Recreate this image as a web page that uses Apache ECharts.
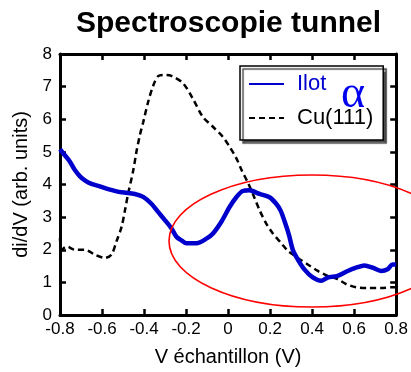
<!DOCTYPE html>
<html>
<head>
<meta charset="utf-8">
<script src="https://cdn.jsdelivr.net/npm/echarts@6/dist/echarts.min.js"></script>
<style>html,body{margin:0;padding:0;background:#fff}#c{width:411px;height:372px}</style>
</head>
<body>
<div id="c"></div>
<script>
const titleText = 'Spectroscopie tunnel';
const xName = 'V échantillon (V)';
const yName = 'di/dV (arb. units)';
const seriesNames = ['Ilot', 'Cu(111)'];
const xTicks = [-0.8, -0.6, -0.4, -0.2, 0, 0.2, 0.4, 0.6, 0.8];
const yTicks = [0, 1, 2, 3, 4, 5, 6, 7, 8];

const ilotV = [-0.8, -0.78, -0.755, -0.73, -0.705, -0.68, -0.65, -0.618, -0.571, -0.507, -0.444, -0.404, -0.365, -0.333, -0.301, -0.27, -0.246, -0.22, -0.198, -0.151, -0.103, -0.072, -0.032, 0.007, 0.039, 0.07, 0.1, 0.15, 0.197, 0.229, 0.25, 0.27, 0.29, 0.308, 0.332, 0.363, 0.403, 0.443, 0.474, 0.521, 0.569, 0.609, 0.649, 0.688, 0.728, 0.759, 0.783, 0.8];
const ilotY = [5.08, 4.92, 4.72, 4.45, 4.25, 4.12, 4.02, 3.96, 3.86, 3.76, 3.71, 3.62, 3.41, 3.16, 2.91, 2.66, 2.4, 2.28, 2.2, 2.2, 2.34, 2.5, 2.86, 3.31, 3.61, 3.8, 3.82, 3.71, 3.61, 3.41, 3.2, 2.85, 2.45, 2.0, 1.7, 1.4, 1.15, 1.05, 1.15, 1.2, 1.35, 1.45, 1.52, 1.45, 1.35, 1.4, 1.55, 1.55];

const cuV = [-0.8, -0.792, -0.768, -0.729, -0.681, -0.634, -0.586, -0.555, -0.531, -0.507, -0.491, -0.476, -0.452, -0.436, -0.42, -0.404, -0.381, -0.357, -0.333, -0.3, -0.27, -0.214, -0.167, -0.12, -0.072, -0.025, 0.007, 0.039, 0.063, 0.094, 0.118, 0.15, 0.181, 0.213, 0.253, 0.284, 0.332, 0.379, 0.427, 0.474, 0.521, 0.561, 0.609, 0.664, 0.728, 0.783, 0.8];
const cuY = [2.36, 2.0, 2.1, 2.0, 2.0, 1.85, 1.75, 1.85, 2.26, 2.7, 3.2, 3.71, 4.41, 5.01, 5.51, 5.91, 6.52, 7.02, 7.32, 7.36, 7.33, 7.1, 6.62, 6.07, 5.77, 5.46, 5.16, 4.81, 4.46, 4.06, 3.71, 3.21, 2.81, 2.5, 2.2, 1.97, 1.75, 1.55, 1.35, 1.2, 1.1, 0.95, 0.85, 0.83, 0.83, 0.85, 0.85];

const FONT = 'Liberation Sans, Arial, sans-serif';
const chart = echarts.init(document.getElementById('c'), null, {renderer: 'canvas'});

function axisBase(extra) {
  return Object.assign({
    type: 'value',
    axisLine: {show: true, onZero: false, lineStyle: {color: '#000', width: 3}},
    axisTick: {show: true, inside: true, length: 6, lineStyle: {color: '#000', width: 2.5}},
    splitLine: {show: false}
  }, extra);
}

const option = {
  animation: false,
  backgroundColor: '#fff',
  title: {
    text: titleText, left: 71, top: 4,
    textStyle: {fontFamily: FONT, fontSize: 30, fontWeight: 'bold', color: '#000'}
  },
  grid: {left: 60, right: 14, top: 54, bottom: 52},
  legend: {
    orient: 'vertical', left: 240, top: 66,
    padding: [6, 10, 10, 8], itemGap: 10, itemWidth: 35, itemHeight: 14,
    backgroundColor: '#fff', borderColor: '#000', borderWidth: 1.5,
    shadowColor: 'rgba(60,60,60,0.9)', shadowBlur: 1, shadowOffsetX: 3, shadowOffsetY: 3,
    itemStyle: {opacity: 0},
    data: [
      {name: seriesNames[0], textStyle: {color: '#0000cc'}},
      {name: seriesNames[1], textStyle: {color: '#000'}}
    ],
    textStyle: {fontFamily: FONT, fontSize: 22, padding: [0, 0, 0, 8], lineHeight: 24}
  },
  xAxis: [
    axisBase({
      min: xTicks[0], max: xTicks[xTicks.length - 1], interval: 0.2, position: 'bottom',
      name: xName, nameLocation: 'middle', nameGap: 32,
      nameTextStyle: {fontFamily: FONT, fontSize: 20, color: '#000'},
      axisLabel: {fontFamily: FONT, fontSize: 17, color: '#000', margin: 6,
        formatter: v => String(Math.round(v * 10) / 10)}
    }),
    axisBase({
      min: xTicks[0], max: xTicks[xTicks.length - 1], interval: 0.2, position: 'top',
      axisLabel: {show: false}
    })
  ],
  yAxis: [
    axisBase({
      min: yTicks[0], max: yTicks[yTicks.length - 1], interval: 1, position: 'left',
      name: yName, nameLocation: 'middle', nameGap: 26,
      nameTextStyle: {fontFamily: FONT, fontSize: 20, color: '#000'},
      axisLabel: {fontFamily: FONT, fontSize: 17, color: '#000', margin: 8}
    }),
    axisBase({
      min: yTicks[0], max: yTicks[yTicks.length - 1], interval: 1, position: 'right',
      axisLabel: {show: false}
    })
  ],
  series: [
    {
      name: seriesNames[0], type: 'line', showSymbol: false, symbol: 'none', smooth: 0.3,
      data: ilotV.map((v, i) => [v, ilotY[i]]),
      lineStyle: {color: '#0000cc', width: 4.5}, itemStyle: {color: '#0000cc'}, z: 3
    },
    {
      name: seriesNames[1], type: 'line', showSymbol: false, symbol: 'none', smooth: 0.3,
      data: cuV.map((v, i) => [v, cuY[i]]),
      lineStyle: {color: '#000', width: 2.5, type: [6, 4]}, itemStyle: {color: '#000'}, z: 2
    }
  ],
  graphic: [
    {type: 'ellipse', shape: {cx: 312, cy: 241, rx: 143, ry: 66}, silent: true, z: 50,
      style: {fill: 'none', stroke: '#ff0000', lineWidth: 1.6}},
    {type: 'text', left: 341, top: 72, z: 60,
      style: {text: 'α', fill: '#0000ee', font: '46px "Liberation Serif", serif'}}
  ]
};
chart.setOption(option);
</script>
</body>
</html>
